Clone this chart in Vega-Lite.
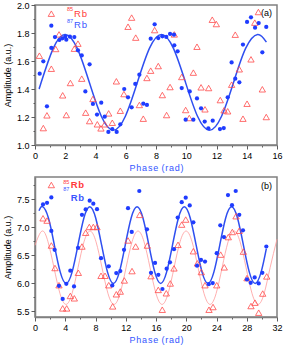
{
  "$schema": "https://vega.github.io/schema/vega-lite/v6.json",
  "background": "white",
  "padding": {"left": 2, "top": 0, "right": 6, "bottom": 2},
  "spacing": 3,
  "config": {
    "view": {"stroke": "#808080", "strokeWidth": 1.5},
    "axis": {"domainColor": "#808080", "domainWidth": 1.5, "tickColor": "#333333", "tickWidth": 0.8, "grid": false,
      "labelFont": "Liberation Sans", "labelFontSize": 9, "labelColor": "#000000", "labelPadding": 2,
      "titleFont": "Liberation Sans", "titleFontSize": 9, "titleFontWeight": "normal", "titleColor": "#000000",
      "labelFlush": false, "labelOverlap": false},
    "axisX": {"titleColor": "#3355ff", "titlePadding": 3},
    "axisY": {"titlePadding": 4}
  },
  "datasets": {
    "a87": [
      {"x":0.31,"y":1.509},{"x":0.55,"y":1.598},{"x":0.79,"y":1.276},{"x":1.08,"y":1.693},{"x":1.32,"y":1.771},{"x":1.61,"y":1.75},{"x":1.81,"y":1.762},{"x":2.0,"y":1.774},{"x":2.07,"y":1.752},{"x":2.31,"y":1.774},{"x":2.6,"y":1.771},{"x":2.84,"y":1.676},{"x":3.09,"y":1.64},{"x":3.33,"y":1.383},{"x":3.61,"y":1.576},{"x":3.83,"y":1.293},{"x":4.1,"y":1.217},{"x":4.38,"y":1.302},{"x":4.61,"y":1.202},{"x":4.85,"y":1.093},{"x":5.11,"y":1.114},{"x":5.4,"y":1.093},{"x":5.64,"y":1.148},{"x":5.9,"y":1.4},{"x":6.15,"y":1.341},{"x":6.39,"y":1.269},{"x":6.63,"y":1.436},{"x":6.9,"y":1.502},{"x":7.16,"y":1.295},{"x":7.4,"y":1.286},{"x":7.65,"y":1.759},{"x":7.91,"y":1.862},{"x":8.15,"y":1.764},{"x":8.42,"y":1.776},{"x":8.68,"y":1.772},{"x":8.93,"y":1.793},{"x":9.19,"y":1.788},{"x":9.21,"y":1.712},{"x":9.43,"y":1.669},{"x":9.7,"y":1.407},{"x":9.96,"y":1.181},{"x":10.23,"y":1.383},{"x":10.47,"y":1.181},{"x":10.71,"y":1.333},{"x":10.98,"y":1.262},{"x":11.22,"y":1.167},{"x":11.46,"y":1.119},{"x":11.75,"y":1.174},{"x":12.23,"y":1.114},{"x":12.48,"y":1.121},{"x":12.74,"y":1.341},{"x":13.0,"y":1.59},{"x":13.24,"y":1.474},{"x":13.51,"y":1.448},{"x":13.75,"y":1.717},{"x":14.02,"y":1.879},{"x":14.28,"y":1.912},{"x":14.55,"y":1.838},{"x":14.79,"y":1.871},{"x":15.03,"y":1.662},{"x":15.29,"y":1.843}
    ],
    "a85": [
      {"x":0.29,"y":1.638},{"x":0.55,"y":1.121},{"x":0.79,"y":1.212},{"x":1.08,"y":1.545},{"x":1.37,"y":1.686},{"x":1.59,"y":1.79},{"x":1.83,"y":1.355},{"x":2.07,"y":1.214},{"x":2.34,"y":1.443},{"x":2.6,"y":1.688},{"x":2.84,"y":1.724},{"x":3.09,"y":1.474},{"x":3.35,"y":1.231},{"x":3.61,"y":1.171},{"x":3.83,"y":1.329},{"x":4.12,"y":1.148},{"x":4.36,"y":1.119},{"x":4.61,"y":1.148},{"x":4.87,"y":1.226},{"x":5.11,"y":1.159},{"x":5.38,"y":1.455},{"x":5.64,"y":1.245},{"x":5.88,"y":1.364},{"x":6.15,"y":1.845},{"x":6.39,"y":1.91},{"x":6.66,"y":1.767},{"x":6.9,"y":1.286},{"x":7.16,"y":1.188},{"x":7.4,"y":1.479},{"x":7.65,"y":1.531},{"x":7.91,"y":1.821},{"x":8.15,"y":1.564},{"x":8.42,"y":1.357},{"x":8.7,"y":1.214},{"x":8.93,"y":1.414},{"x":9.21,"y":1.79},{"x":9.7,"y":1.486},{"x":9.96,"y":1.25},{"x":10.2,"y":1.193},{"x":10.47,"y":1.517},{"x":10.71,"y":1.702},{"x":10.98,"y":1.412},{"x":11.24,"y":1.255},{"x":11.48,"y":1.407},{"x":11.72,"y":1.895},{"x":11.99,"y":1.864},{"x":12.25,"y":1.321},{"x":12.5,"y":1.248},{"x":12.74,"y":1.241},{"x":13.0,"y":1.431},{"x":13.24,"y":1.788},{"x":13.51,"y":1.541},{"x":13.75,"y":1.188},{"x":14.02,"y":1.295},{"x":14.28,"y":1.612},{"x":14.53,"y":1.874},{"x":14.77,"y":1.95},{"x":15.03,"y":1.398},{"x":15.29,"y":1.2}
    ],
    "aFit": [
      {"x":0.3,"y":1.41},{"x":0.41,"y":1.4475},{"x":1.205,"y":1.69},{"x":2.0,"y":1.79},{"x":2.795,"y":1.69},{"x":3.59,"y":1.4475},{"x":4.385,"y":1.205},{"x":5.18,"y":1.105},{"x":5.975,"y":1.205},{"x":6.77,"y":1.4475},{"x":7.565,"y":1.69},{"x":8.36,"y":1.79},{"x":9.155,"y":1.69},{"x":9.95,"y":1.4475},{"x":10.745,"y":1.205},{"x":11.54,"y":1.105},{"x":12.335,"y":1.205},{"x":13.13,"y":1.4475},{"x":13.925,"y":1.69},{"x":14.72,"y":1.79},{"x":15.3,"y":1.735}
    ],
    "b87": [
      {"x":1.06,"y":7.41},{"x":1.59,"y":7.44},{"x":2.16,"y":6.936},{"x":2.6,"y":6.6},{"x":3.17,"y":5.956},{"x":3.66,"y":5.722},{"x":4.14,"y":5.992},{"x":4.67,"y":6.226},{"x":5.16,"y":5.945},{"x":5.69,"y":6.635},{"x":6.21,"y":7.224},{"x":6.7,"y":7.32},{"x":7.23,"y":7.477},{"x":7.71,"y":7.423},{"x":8.2,"y":7.325},{"x":8.73,"y":6.45},{"x":9.75,"y":6.306},{"x":10.22,"y":5.963},{"x":10.75,"y":6.185},{"x":11.28,"y":6.22},{"x":11.77,"y":6.6},{"x":12.3,"y":7.343},{"x":12.79,"y":6.918},{"x":13.79,"y":7.65},{"x":14.81,"y":6.965},{"x":15.34,"y":6.19},{"x":15.87,"y":6.365},{"x":16.31,"y":6.154},{"x":16.85,"y":5.9},{"x":17.41,"y":6.262},{"x":17.85,"y":6.377},{"x":18.38,"y":6.612},{"x":18.87,"y":7.176},{"x":19.4,"y":7.451},{"x":19.93,"y":7.53},{"x":20.46,"y":7.392},{"x":20.94,"y":7.091},{"x":21.43,"y":6.316},{"x":21.95,"y":6.419},{"x":22.48,"y":6.39},{"x":22.97,"y":5.986},{"x":23.5,"y":6.005},{"x":24.03,"y":6.54},{"x":24.5,"y":7.037},{"x":24.99,"y":6.828},{"x":25.52,"y":7.578},{"x":26.05,"y":7.397},{"x":26.54,"y":7.65},{"x":27.01,"y":7.224},{"x":27.5,"y":6.947},{"x":28.03,"y":6.071},{"x":28.52,"y":6.01},{"x":29.05,"y":6.107},{"x":29.58,"y":5.999},{"x":30.06,"y":6.19},{"x":30.59,"y":6.659}
    ],
    "b85": [
      {"x":1.06,"y":7.163},{"x":1.59,"y":7.122},{"x":2.16,"y":6.677},{"x":2.64,"y":6.275},{"x":3.17,"y":5.968},{"x":3.66,"y":5.554},{"x":4.19,"y":5.554},{"x":4.67,"y":5.776},{"x":5.2,"y":5.734},{"x":5.73,"y":6.19},{"x":6.21,"y":6.659},{"x":6.7,"y":6.905},{"x":7.18,"y":7.008},{"x":7.71,"y":7.008},{"x":8.2,"y":7.008},{"x":8.73,"y":6.136},{"x":9.26,"y":6.136},{"x":9.75,"y":5.968},{"x":10.27,"y":5.59},{"x":10.75,"y":5.806},{"x":11.28,"y":5.855},{"x":11.81,"y":6.053},{"x":12.3,"y":6.767},{"x":12.83,"y":6.22},{"x":13.31,"y":6.659},{"x":13.84,"y":7.224},{"x":14.85,"y":6.677},{"x":15.34,"y":6.13},{"x":16.3,"y":5.884},{"x":16.83,"y":5.53},{"x":17.36,"y":5.824},{"x":17.89,"y":5.999},{"x":18.38,"y":6.269},{"x":18.91,"y":6.689},{"x":19.4,"y":7.05},{"x":19.93,"y":7.14},{"x":20.94,"y":6.575},{"x":21.47,"y":6.359},{"x":21.99,"y":6.203},{"x":22.48,"y":5.968},{"x":23.01,"y":5.53},{"x":23.54,"y":5.578},{"x":24.03,"y":5.968},{"x":24.55,"y":6.514},{"x":25.03,"y":6.287},{"x":25.56,"y":6.827},{"x":26.09,"y":6.918},{"x":26.58,"y":7.2},{"x":27.01,"y":6.941},{"x":27.55,"y":6.568},{"x":28.03,"y":6.095},{"x":28.56,"y":5.596},{"x":29.09,"y":5.656},{"x":29.58,"y":5.477},{"x":30.11,"y":5.819},{"x":30.64,"y":6.125}
    ],
    "bFit87": [
      {"x":0.53,"y":7.297},{"x":0.995,"y":7.37},{"x":1.776,"y":7.169},{"x":2.558,"y":6.685},{"x":3.339,"y":6.201},{"x":4.12,"y":6.0},{"x":4.901,"y":6.201},{"x":5.683,"y":6.685},{"x":6.464,"y":7.169},{"x":7.245,"y":7.37},{"x":8.026,"y":7.169},{"x":8.808,"y":6.685},{"x":9.589,"y":6.201},{"x":10.37,"y":6.0},{"x":11.151,"y":6.201},{"x":11.933,"y":6.685},{"x":12.714,"y":7.169},{"x":13.495,"y":7.37},{"x":14.276,"y":7.169},{"x":15.058,"y":6.685},{"x":15.839,"y":6.201},{"x":16.62,"y":6.0},{"x":17.401,"y":6.201},{"x":18.183,"y":6.685},{"x":18.964,"y":7.169},{"x":19.745,"y":7.37},{"x":20.526,"y":7.169},{"x":21.308,"y":6.685},{"x":22.089,"y":6.201},{"x":22.87,"y":6.0},{"x":23.651,"y":6.201},{"x":24.433,"y":6.685},{"x":25.214,"y":7.169},{"x":25.995,"y":7.37},{"x":26.776,"y":7.169},{"x":27.558,"y":6.685},{"x":28.339,"y":6.201},{"x":29.12,"y":6.0},{"x":29.901,"y":6.201},{"x":30.59,"y":6.62}
    ],
    "bFit85": [
      {"x":0,"y":6.68},{"x":0.925,"y":6.935},{"x":1.719,"y":6.743},{"x":2.513,"y":6.28},{"x":3.306,"y":5.817},{"x":4.1,"y":5.625},{"x":4.894,"y":5.817},{"x":5.688,"y":6.28},{"x":6.481,"y":6.743},{"x":7.275,"y":6.935},{"x":8.069,"y":6.743},{"x":8.863,"y":6.28},{"x":9.656,"y":5.817},{"x":10.45,"y":5.625},{"x":11.244,"y":5.817},{"x":12.038,"y":6.28},{"x":12.831,"y":6.743},{"x":13.625,"y":6.935},{"x":14.419,"y":6.743},{"x":15.213,"y":6.28},{"x":16.006,"y":5.817},{"x":16.8,"y":5.625},{"x":17.594,"y":5.817},{"x":18.388,"y":6.28},{"x":19.181,"y":6.743},{"x":19.975,"y":6.935},{"x":20.769,"y":6.743},{"x":21.563,"y":6.28},{"x":22.356,"y":5.817},{"x":23.15,"y":5.625},{"x":23.944,"y":5.817},{"x":24.738,"y":6.28},{"x":25.531,"y":6.743},{"x":26.325,"y":6.935},{"x":27.119,"y":6.743},{"x":27.913,"y":6.28},{"x":28.706,"y":5.817},{"x":29.5,"y":5.625},{"x":30.294,"y":5.817},{"x":31.088,"y":6.28},{"x":32,"y":6.79}
    ]
  },
  "vconcat": [
    {
      "width": 242, "height": 140,
      "encoding": {
        "x": {"field": "x", "type": "quantitative", "scale": {"domain": [0, 16], "nice": false, "zero": false},
          "axis": {"values": [0,1,2,3,4,5,6,7,8,9,10,11,12,13,14,15,16], "labelOverlap": false, "labelFlush": false,
            "labelExpr": "datum.value % 2 === 0 ? datum.label : ''",
            "tickSize": {"condition": {"test": "datum.value % 2 === 0", "value": 4}, "value": 2},
            "title": "P\u200ah\u200aa\u200as\u200ae \u200a(\u200ar\u200aa\u200ad\u200a)"}},
        "y": {"field": "y", "type": "quantitative", "scale": {"domain": [1, 2], "nice": false, "zero": false},
          "axis": {"values": [1.0,1.1,1.2,1.3,1.4,1.5,1.6,1.7,1.8,1.9,2.0], "format": ".1f", "labelOverlap": false, "labelFlush": false,
            "labelExpr": "round(datum.value*10) % 2 === 0 ? datum.label : ''",
            "tickSize": {"condition": {"test": "round(datum.value*10) % 2 === 0", "value": 4}, "value": 2},
            "title": "Amplitude (a.u.)"}}
      },
      "layer": [
        {"data": {"name": "aFit"}, "mark": {"type": "line", "color": "#2f4ff0", "strokeWidth": 1.5, "interpolate": "natural"}, "encoding": {}},
        {"data": {"name": "a85"}, "mark": {"type": "point", "shape": "triangle-up", "filled": false, "color": "#ff4a4a", "size": 40, "strokeWidth": 0.8, "opacity": 1}, "encoding": {}},
        {"data": {"name": "a87"}, "mark": {"type": "circle", "color": "#1f3cff", "size": 18, "opacity": 1}, "encoding": {}},
        {"data": {"values": [{"x": 1.08, "y": 1.938}]}, "mark": {"type": "point", "shape": "triangle-up", "filled": false, "color": "#ff4a4a", "size": 40, "strokeWidth": 0.8, "opacity": 1}, "encoding": {}},
        {"data": {"values": [{"x": 1.08, "y": 1.852}]}, "mark": {"type": "circle", "color": "#1f3cff", "size": 18, "opacity": 1}, "encoding": {}},
        {"data": {"values": [{"x": 2.12, "y": 1.954}]}, "mark": {"type": "text", "text": "85", "align": "left", "baseline": "alphabetic", "font": "Liberation Sans", "fontSize": 5.5, "color": "#ff3a3a"}, "encoding": {}},
        {"data": {"values": [{"x": 2.58, "y": 1.916}]}, "mark": {"type": "text", "text": "R\u200ab", "align": "left", "baseline": "alphabetic", "font": "Liberation Sans", "fontSize": 9.5, "color": "#ff3a3a"}, "encoding": {}},
        {"data": {"values": [{"x": 2.12, "y": 1.868}]}, "mark": {"type": "text", "text": "87", "align": "left", "baseline": "alphabetic", "font": "Liberation Sans", "fontSize": 5.5, "color": "#3a55ff"}, "encoding": {}},
        {"data": {"values": [{"x": 2.58, "y": 1.836}]}, "mark": {"type": "text", "text": "R\u200ab", "align": "left", "baseline": "alphabetic", "font": "Liberation Sans", "fontSize": 9.5, "color": "#3a55ff"}, "encoding": {}},
        {"data": {"values": [{"x": 14.94, "y": 1.921}]}, "mark": {"type": "text", "text": "(a)", "align": "left", "baseline": "alphabetic", "font": "Liberation Sans", "fontSize": 9, "color": "#000000"}, "encoding": {}}
      ]
    },
    {
      "width": 242, "height": 140,
      "encoding": {
        "x": {"field": "x", "type": "quantitative", "scale": {"domain": [0, 32], "nice": false, "zero": false},
          "axis": {"values": [0,2,4,6,8,10,12,14,16,18,20,22,24,26,28,30,32], "labelOverlap": false, "labelFlush": false,
            "labelExpr": "datum.value % 4 === 0 ? datum.label : ''",
            "tickSize": {"condition": {"test": "datum.value % 4 === 0", "value": 4}, "value": 2},
            "title": "P\u200ah\u200aa\u200as\u200ae \u200a(\u200ar\u200aa\u200ad\u200a)"}},
        "y": {"field": "y", "type": "quantitative", "scale": {"domain": [5.4, 7.9], "nice": false, "zero": false},
          "axis": {"values": [5.5,5.75,6.0,6.25,6.5,6.75,7.0,7.25,7.5,7.75], "format": ".1f", "labelOverlap": false, "labelFlush": false,
            "labelExpr": "round(datum.value*4) % 2 === 0 ? datum.label : ''",
            "tickSize": {"condition": {"test": "round(datum.value*4) % 2 === 0", "value": 4}, "value": 2},
            "title": "Amplitude (a.u.)"}}
      },
      "layer": [
        {"data": {"name": "bFit85"}, "mark": {"type": "line", "color": "#ff9a9a", "strokeWidth": 0.8, "interpolate": "natural"}, "encoding": {}},
        {"data": {"name": "bFit87"}, "mark": {"type": "line", "color": "#2f4ff0", "strokeWidth": 1.5, "interpolate": "natural"}, "encoding": {}},
        {"data": {"name": "b85"}, "mark": {"type": "point", "shape": "triangle-up", "filled": false, "color": "#ff4a4a", "size": 40, "strokeWidth": 0.8, "opacity": 1}, "encoding": {}},
        {"data": {"name": "b87"}, "mark": {"type": "circle", "color": "#1f3cff", "size": 18, "opacity": 1}, "encoding": {}},
        {"data": {"values": [{"x": 2.16, "y": 7.757}]}, "mark": {"type": "point", "shape": "triangle-up", "filled": false, "color": "#ff4a4a", "size": 40, "strokeWidth": 0.8, "opacity": 1}, "encoding": {}},
        {"data": {"values": [{"x": 2.16, "y": 7.536}]}, "mark": {"type": "circle", "color": "#1f3cff", "size": 18, "opacity": 1}, "encoding": {}},
        {"data": {"values": [{"x": 3.74, "y": 7.775}]}, "mark": {"type": "text", "text": "85", "align": "left", "baseline": "alphabetic", "font": "Liberation Sans", "fontSize": 5.5, "color": "#ff3a3a"}, "encoding": {}},
        {"data": {"values": [{"x": 4.72, "y": 7.704}]}, "mark": {"type": "text", "text": "R\u200ab", "align": "left", "baseline": "alphabetic", "font": "Liberation Sans", "fontSize": 9.5, "fontWeight": "bold", "color": "#ff3a3a"}, "encoding": {}},
        {"data": {"values": [{"x": 3.74, "y": 7.655}]}, "mark": {"type": "text", "text": "87", "align": "left", "baseline": "alphabetic", "font": "Liberation Sans", "fontSize": 5.5, "color": "#3a55ff"}, "encoding": {}},
        {"data": {"values": [{"x": 4.72, "y": 7.477}]}, "mark": {"type": "text", "text": "R\u200ab", "align": "left", "baseline": "alphabetic", "font": "Liberation Sans", "fontSize": 9.5, "fontWeight": "bold", "color": "#3a55ff"}, "encoding": {}},
        {"data": {"values": [{"x": 29.9, "y": 7.686}]}, "mark": {"type": "text", "text": "(b)", "align": "left", "baseline": "alphabetic", "font": "Liberation Sans", "fontSize": 9, "color": "#000000"}, "encoding": {}}
      ]
    }
  ]
}
